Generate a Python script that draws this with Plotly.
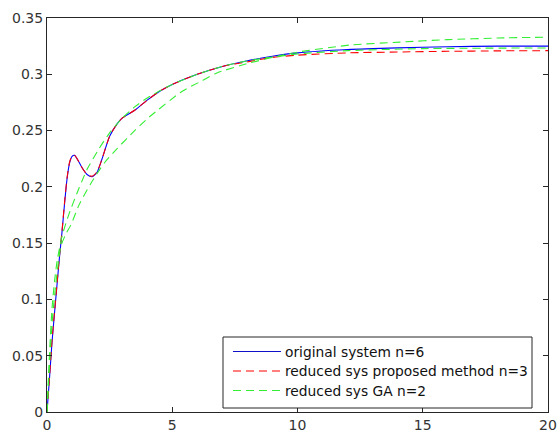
import plotly.graph_objects as go

# original system n=6
t_orig = [0, 0.1, 0.2, 0.3, 0.4, 0.5, 0.6, 0.7, 0.8, 0.9, 1.0, 1.1, 1.2, 1.4, 1.6, 1.8, 2.0, 2.2, 2.5, 2.8, 3.0, 3.5, 4.0, 4.5, 5, 6, 7, 8, 9, 10, 12, 14, 16, 18, 20]
y_orig = [0, 0.03, 0.062, 0.088, 0.113, 0.138, 0.16, 0.185, 0.207, 0.221, 0.227, 0.228, 0.225, 0.217, 0.211, 0.209, 0.213, 0.225, 0.245, 0.256, 0.261, 0.268, 0.277, 0.285, 0.291, 0.300, 0.307, 0.312, 0.316, 0.319, 0.322, 0.3235, 0.3245, 0.325, 0.325]

# reduced sys proposed method n=3
t_prop = [0, 0.1, 0.2, 0.3, 0.4, 0.5, 0.6, 0.7, 0.8, 0.9, 1.0, 1.1, 1.2, 1.4, 1.6, 1.8, 2.0, 2.2, 2.5, 2.8, 3.0, 3.5, 4.0, 4.5, 5, 6, 7, 8, 9, 10, 12, 14, 16, 18, 20]
y_prop = [0, 0.031, 0.063, 0.089, 0.114, 0.139, 0.161, 0.186, 0.208, 0.222, 0.2275, 0.228, 0.225, 0.217, 0.211, 0.2095, 0.2135, 0.225, 0.245, 0.256, 0.261, 0.268, 0.277, 0.285, 0.291, 0.300, 0.307, 0.311, 0.315, 0.317, 0.319, 0.3198, 0.3204, 0.3208, 0.321]

# reduced sys GA n=2 (first curve)
t_ga1 = [0, 0.1, 0.2, 0.3, 0.41, 0.61, 0.88, 1.28, 1.61, 2.08, 2.5, 3.0, 3.5, 4.0, 5, 6, 7, 8, 10, 12, 15, 20]
y_ga1 = [0, 0.052, 0.092, 0.116, 0.135, 0.157, 0.176, 0.199, 0.216, 0.234, 0.248, 0.261, 0.271, 0.279, 0.291, 0.300, 0.307, 0.312, 0.318, 0.321, 0.3228, 0.3234]

# reduced sys GA n=2 (second curve)
t_ga2 = [0, 0.1, 0.2, 0.3, 0.55, 0.75, 0.95, 1.28, 1.75, 2.28, 2.8, 3.5, 4.08, 5.4, 6.08, 6.76, 8.08, 9.4, 10, 12.1, 14.1, 16, 18, 20]
y_ga2 = [0, 0.042, 0.078, 0.103, 0.147, 0.158, 0.166, 0.184, 0.203, 0.221, 0.234, 0.250, 0.262, 0.285, 0.293, 0.301, 0.310, 0.317, 0.3197, 0.326, 0.3286, 0.3308, 0.3322, 0.333]

x_ticks = [0, 5, 10, 15, 20]
x_labels = ["0", "5", "10", "15", "20"]
y_ticks = [0, 0.05, 0.1, 0.15, 0.2, 0.25, 0.3, 0.35]
y_labels = ["0", "0.05", "0.1", "0.15", "0.2", "0.25", "0.3", "0.35"]

legend_names = ["original system n=6", "reduced sys proposed method n=3", "reduced sys GA n=2"]

FONT = "DejaVu Sans"
BLUE, RED, GREEN = "#0000ff", "#ff0000", "#33ee33"
DASH = "8px,5px"

fig = go.Figure()
fig.add_trace(go.Scatter(x=t_orig, y=y_orig, mode="lines", name=legend_names[0], showlegend=False,
                         line=dict(color=BLUE, width=1.1, shape="spline", smoothing=0.6)))
fig.add_trace(go.Scatter(x=t_prop, y=y_prop, mode="lines", name=legend_names[1], showlegend=False,
                         line=dict(color=RED, width=1.1, dash=DASH, shape="spline", smoothing=0.6)))
fig.add_trace(go.Scatter(x=t_ga1, y=y_ga1, mode="lines", name=legend_names[2], showlegend=False,
                         line=dict(color=GREEN, width=1.1, dash=DASH, shape="spline", smoothing=0.6)))
fig.add_trace(go.Scatter(x=t_ga2, y=y_ga2, mode="lines", name=legend_names[2], showlegend=False,
                         line=dict(color=GREEN, width=1.1, dash=DASH, shape="spline", smoothing=0.6)))

axis_common = dict(showline=True, linecolor="#262626", linewidth=1, mirror="ticks",
                   ticks="inside", ticklen=5, tickcolor="#262626", showgrid=False, zeroline=False,
                   ticklabeloverflow="allow", automargin=False,
                   tickfont=dict(family=FONT, size=14, color="#333333"))
fig.update_xaxes(range=[0, 20], tickvals=x_ticks, ticktext=x_labels, **axis_common)
fig.update_yaxes(range=[0, 0.35], tickvals=y_ticks, ticktext=y_labels, **axis_common)

# legend box drawn in paper coordinates (plot area: x 47..548 px, y 18..412 px)
PL, PW, PB, PH = 47, 501, 412, 394
def px(x):
    return (x - PL) / PW
def py(y):
    return (PB - y) / PH

shapes = [dict(type="rect", xref="paper", yref="paper", x0=px(223), x1=px(532), y0=py(408), y1=py(337),
               line=dict(color="#262626", width=1), fillcolor="white", layer="above")]
annotations = []
rows = [351.5, 371, 390.5]
styles = [("#1010c8", "solid"), (RED, DASH), (GREEN, DASH)]
for name, yc, (col, dash) in zip(legend_names, rows, styles):
    shapes.append(dict(type="line", xref="paper", yref="paper", x0=px(233), x1=px(281), y0=py(yc), y1=py(yc),
                       line=dict(color=col, width=1.1, dash=dash), layer="above"))
    annotations.append(dict(xref="paper", yref="paper", x=px(283), y=py(yc), xanchor="left", yanchor="middle",
                            text=name, showarrow=False,
                            font=dict(family=FONT, size=13.8, color="#111111")))

fig.update_layout(
    width=557, height=436,
    margin=dict(l=47, r=9, t=18, b=24),
    paper_bgcolor="white", plot_bgcolor="white",
    font=dict(family=FONT, size=14, color="#262626"),
    showlegend=False,
    shapes=shapes, annotations=annotations,
)
fig.write_html("out.html", config={"displayModeBar": False},
               post_script="document.body.style.margin='0';document.body.style.overflow='hidden';")
